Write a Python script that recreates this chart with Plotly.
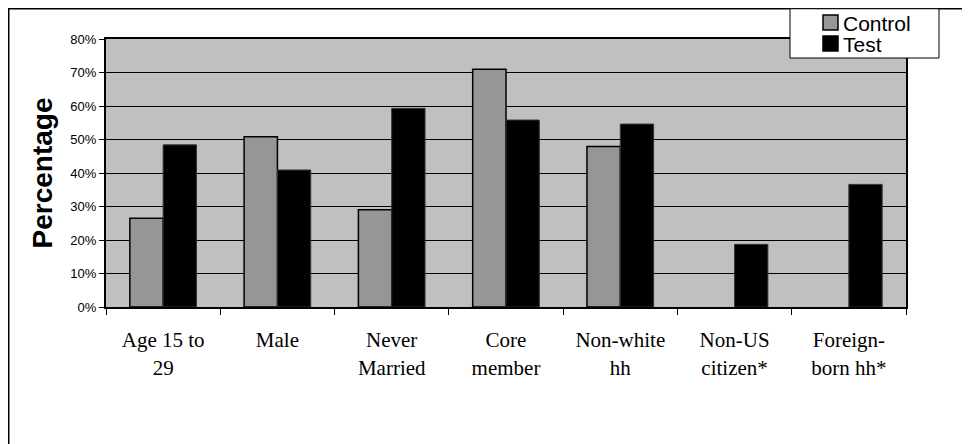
import plotly.graph_objects as go

categories = ["Age 15 to<br>29", "Male", "Never<br>Married", "Core<br>member",
              "Non-white<br>hh", "Non-US<br>citizen*", "Foreign-<br>born hh*"]
control = [26.5, 50.8, 29.0, 71.0, 47.9, None, None]
test = [48.4, 40.9, 59.3, 55.8, 54.6, 18.7, 36.6]
y_ticks = [0, 10, 20, 30, 40, 50, 60, 70, 80]
series_names = ["Control", "Test"]
series_colors = ["#969696", "black"]

# figure is 962x436 (page body has an 8px margin); plot area x 98-898, y 31-299
W, H = 962, 436
L, R, T, B = 98, 64, 31, 137
PW, PH = W - L - R, H - T - B


def px(x):
    return (x - L) / PW


def py(y):
    return (H - B - y) / PH


fig = go.Figure()
fig.add_trace(go.Bar(name=series_names[0], x=categories, y=control, showlegend=False,
                     marker=dict(color=series_colors[0], line=dict(color="black", width=1.5))))
fig.add_trace(go.Bar(name=series_names[1], x=categories, y=test, showlegend=False,
                     marker=dict(color=series_colors[1], line=dict(color="#333333", width=1))))

shapes = [
    # outer chart border
    dict(type="rect", xref="paper", yref="paper", x0=px(0.75), x1=1.5, y0=-1.0, y1=py(0.75),
         line=dict(color="black", width=1.5), fillcolor="rgba(0,0,0,0)", layer="below"),
    # legend box
    dict(type="rect", xref="paper", yref="paper", x0=px(782), x1=px(931), y0=py(50), y1=py(0.75),
         line=dict(color="black", width=1), fillcolor="white", layer="above"),
]
annotations = []
for i, (name, col) in enumerate(zip(series_names, series_colors)):
    top = 7 + 21 * i
    shapes.append(dict(type="rect", xref="paper", yref="paper",
                       x0=px(815), x1=px(830), y0=py(top + 15), y1=py(top),
                       line=dict(color="black", width=1.5), fillcolor=col, layer="above"))
    annotations.append(dict(xref="paper", yref="paper", x=px(833), y=py(top + 8),
                            xanchor="left", yanchor="middle", text=name, showarrow=False,
                            font=dict(family="Liberation Sans", size=21, color="black")))

fig.update_layout(
    width=W, height=H,
    margin=dict(l=L, r=R, t=T, b=B),
    paper_bgcolor="white",
    plot_bgcolor="#c0c0c0",
    barmode="group", bargap=0.417, bargroupgap=0,
    font=dict(family="Liberation Sans", color="black"),
    showlegend=False,
    shapes=shapes,
    annotations=annotations,
)
fig.update_yaxes(
    range=[0, 80], tickvals=y_ticks, ticktext=[f"{v}%" for v in y_ticks],
    showgrid=True, gridcolor="black", gridwidth=1,
    showline=True, linecolor="black", linewidth=2, mirror=True,
    ticks="outside", ticklen=5, tickcolor="black", tickwidth=1,
    tickfont=dict(family="Liberation Sans", size=13, color="black"),
    title=dict(text="<b>Percentage</b>", font=dict(family="Liberation Sans", size=28, color="black"),
               standoff=10),
    zeroline=False,
)
fig.update_xaxes(
    showline=True, linecolor="black", linewidth=2, mirror=True,
    ticks="outside", ticklen=6, tickcolor="black", tickwidth=1, tickson="boundaries",
    tickfont=dict(family="Liberation Serif", size=21, color="black"),
    ticklabelstandoff=13,
    showgrid=False,
)
fig.write_html("out.html")
